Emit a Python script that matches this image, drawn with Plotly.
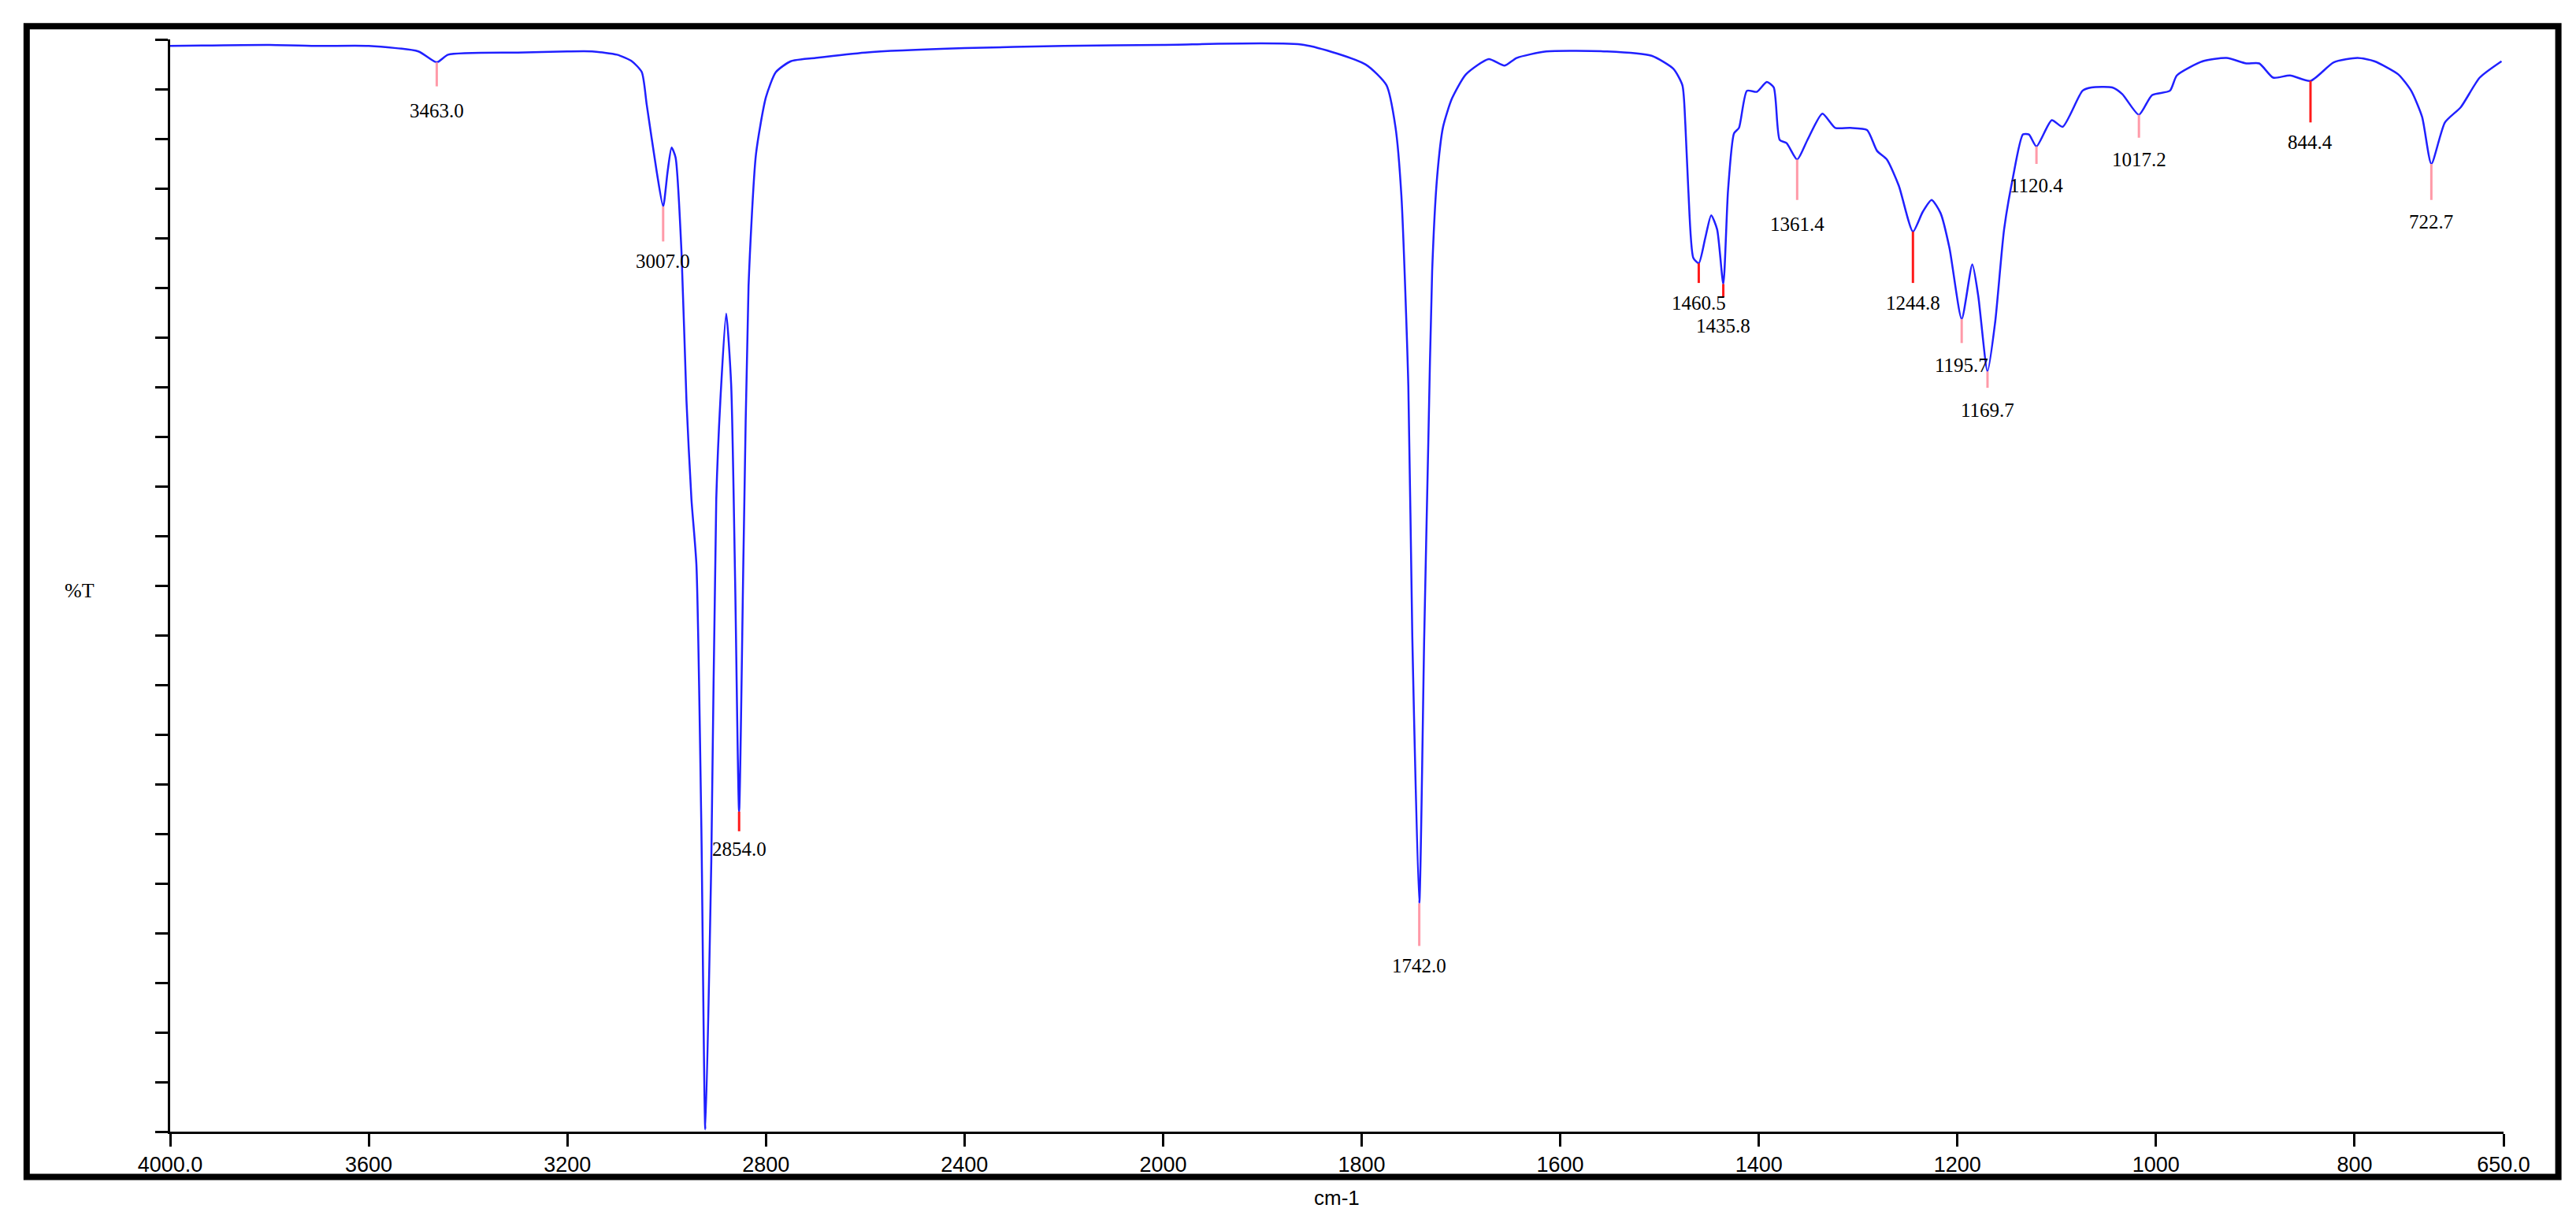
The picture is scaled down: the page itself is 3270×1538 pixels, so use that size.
import plotly.graph_objects as go

# wavenumber (cm-1) and %T
wavenumber = [4000, 3800, 3700, 3600, 3500, 3463, 3440, 3300, 3200, 3150, 3100, 3070, 3050, 3040,
              3020, 3007, 2998, 2990, 2982, 2970, 2960, 2950, 2940, 2930, 2922, 2910, 2900, 2890,
              2880, 2870, 2862, 2854, 2845, 2835, 2820, 2800, 2780, 2750, 2700, 2600, 2400, 2200,
              2000, 1858, 1796, 1775, 1766, 1760, 1753, 1749, 1742, 1737, 1733, 1729, 1724, 1718,
              1709, 1695, 1672, 1656, 1644, 1614, 1553, 1508, 1486, 1477, 1474, 1471, 1466, 1460.5,
              1454, 1448, 1442, 1435.8, 1431, 1425, 1420, 1412, 1402, 1392, 1385, 1379, 1372, 1361.4,
              1351, 1336, 1323, 1308, 1291, 1281, 1271, 1259, 1244.8, 1235, 1226, 1217, 1208, 1195.7,
              1185, 1179, 1169.7, 1162, 1153, 1144, 1134, 1128, 1120.4, 1105, 1094, 1074, 1065, 1044,
              1034, 1017.2, 1004, 986, 979, 953, 929, 909, 896, 882, 865, 844.4, 821, 797, 780, 756,
              743, 732, 722.7, 709, 693, 674, 652]
transmittance = [99.4, 99.5, 99.4, 99.4, 98.9, 97.9, 98.6, 98.8, 98.9, 98.9, 98.6, 98.0, 97.0, 94.0,
                 87.9, 84.7, 87.9, 90.1, 89.2, 80.5, 66.9, 57.9, 51.9, 27.8, 0.2, 24.8, 57.9, 68.4,
                 74.9, 68.4, 50.4, 29.3, 53.4, 77.4, 89.5, 94.7, 97.0, 98.0, 98.3, 98.8, 99.2, 99.4,
                 99.5, 99.5, 97.7, 95.8, 92.0, 85.7, 68.3, 45.3, 20.9, 45.3, 62.6, 78.8, 87.4, 92.0,
                 94.6, 96.8, 98.2, 97.6, 98.3, 98.9, 98.9, 98.5, 97.3, 95.8, 92.2, 86.2, 80.0, 79.5,
                 81.8, 83.9, 82.6, 77.6, 86.2, 91.4, 91.9, 95.3, 95.2, 96.1, 95.6, 90.8, 90.5, 89.0,
                 90.8, 93.2, 91.9, 91.9, 91.7, 89.8, 89.0, 86.6, 82.4, 84.2, 85.3, 84.1, 80.9, 74.4,
                 79.4, 76.5, 69.6, 74.1, 82.6, 87.4, 91.3, 91.3, 90.2, 92.6, 92.0, 95.3, 95.6, 95.6,
                 95.0, 93.1, 94.9, 95.3, 96.7, 98.0, 98.3, 97.8, 97.8, 96.5, 96.7, 96.2, 97.9, 98.3,
                 98.0, 96.8, 95.3, 92.9, 88.6, 92.4, 93.8, 96.5, 98.0]

peak_labels = ["3463.0", "3007.0", "2854.0", "1742.0", "1460.5", "1435.8", "1361.4", "1244.8",
               "1195.7", "1169.7", "1120.4", "1017.2", "844.4", "722.7"]
peak_pos = [3463, 3007, 2854, 1742, 1460.5, 1435.8, 1361.4, 1244.8, 1195.7, 1169.7, 1120.4, 1017.2, 844.4, 722.7]
peak_T = [97.9, 84.7, 29.3, 20.9, 79.5, 77.6, 89.0, 82.4, 74.4, 69.6, 90.2, 93.1, 96.2, 88.6]
line_end_T = [95.7, 81.5, 27.5, 17.0, 77.7, 76.4, 85.3, 77.7, 72.2, 68.1, 88.6, 91.0, 92.4, 85.3]
label_T = [94.6, 80.8, 27.0, 16.3, 77.0, 74.9, 84.2, 77.0, 71.3, 67.2, 87.7, 90.1, 91.7, 84.4]
pink_peaks = ["3463.0", "3007.0", "1742.0", "1361.4", "1195.7", "1169.7", "1120.4", "1017.2", "722.7"]

tick_values = [4000, 3600, 3200, 2800, 2400, 2000, 1800, 1600, 1400, 1200, 1000, 800, 650]
tick_text = ["4000.0", "3600", "3200", "2800", "2400", "2000", "1800", "1600", "1400", "1200",
             "1000", "800", "650.0"]


def to_axis(w):
    # spectrometer display: scale doubles below 2000 cm-1
    return 2000 + (w - 2000) / 2 if w >= 2000 else w


fig = go.Figure()
fig.add_trace(go.Scatter(x=[to_axis(w) for w in wavenumber], y=transmittance, mode="lines",
                         line=dict(color="#2020ff", width=2.5, shape="spline", smoothing=0.6),
                         hoverinfo="skip", showlegend=False))

for lab, w, t0, t1, tl in zip(peak_labels, peak_pos, peak_T, line_end_T, label_T):
    col = "#ff9aa8" if lab in pink_peaks else "#ff1a1a"
    xa = to_axis(w)
    fig.add_shape(type="line", x0=xa, x1=xa, y0=t0, y1=t1, xref="x", yref="y",
                  line=dict(color=col, width=3))
    fig.add_annotation(x=xa, y=tl, text=lab, showarrow=False, xref="x", yref="y",
                       yanchor="top", font=dict(family="Liberation Serif", size=25, color="black"))

fig.add_shape(type="rect", xref="paper", yref="paper", x0=-0.0615, x1=1.0235, y0=-0.0414, y1=1.0121,
              line=dict(color="black", width=8))
fig.add_annotation(text="%T", xref="paper", yref="paper", x=-0.046, y=0.495, showarrow=False,
                   font=dict(family="Liberation Serif", size=26, color="black"))
fig.add_annotation(text="cm-1", xref="paper", yref="paper", x=0.5, y=-0.048, showarrow=False,
                   yanchor="top", font=dict(family="Liberation Sans", size=26, color="black"))

fig.update_layout(
    width=3270, height=1538, paper_bgcolor="white", plot_bgcolor="white",
    margin=dict(l=208, r=100, t=42, b=110),
    xaxis=dict(range=[to_axis(4000), to_axis(650)], tickvals=[to_axis(v) for v in tick_values],
               ticktext=tick_text, ticks="outside", ticklen=16, tickwidth=3, tickcolor="black",
               showline=True, linecolor="black", linewidth=3, showgrid=False, zeroline=False,
               tickfont=dict(family="Liberation Sans", size=27, color="black")),
    yaxis=dict(range=[0, 100], dtick=100 / 22, tick0=0, ticks="outside", ticklen=16, tickwidth=3,
               tickcolor="black", showticklabels=False, showline=True, linecolor="black",
               linewidth=3, showgrid=False, zeroline=False),
)
fig.write_html("out.html")
